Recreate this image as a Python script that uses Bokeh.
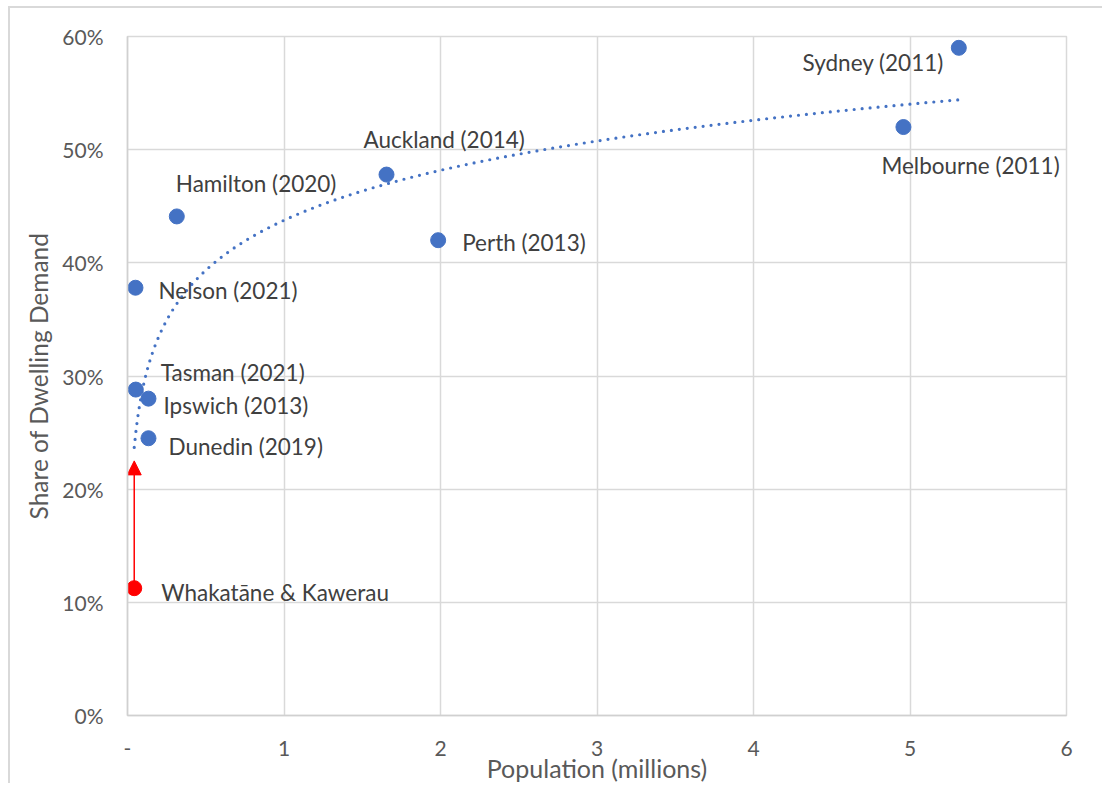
import numpy as np
from bokeh.plotting import figure
from bokeh.models import (ColumnDataSource, FixedTicker, NumeralTickFormatter, Arrow,
                          NormalHead, LabelSet, Range1d)
from bokeh.core.properties import value
from bokeh.embed import file_html
from bokeh.resources import INLINE

# City observations: population (millions) vs share of dwelling demand
cities = ["Sydney (2011)", "Melbourne (2011)", "Auckland (2014)", "Perth (2013)",
          "Hamilton (2020)", "Nelson (2021)", "Tasman (2021)", "Ipswich (2013)",
          "Dunedin (2019)"]
population = [5.312, 4.958, 1.655, 1.985, 0.315, 0.051, 0.053, 0.134, 0.134]
share = [0.590, 0.520, 0.478, 0.420, 0.441, 0.378, 0.288, 0.280, 0.245]

# Highlighted district and where it would sit on the curve
hl_name = "Whakatāne & Kawerau"
hl_population = 0.043
hl_share = 0.1125
hl_target = 0.225

x_ticks = [0, 1, 2, 3, 4, 5, 6]
y_ticks = [0.0, 0.1, 0.2, 0.3, 0.4, 0.5, 0.6]

# Label placement (pixel offsets from each point: right, up)
label_offsets = {
    "Sydney (2011)": (-15, -15, "right"),
    "Melbourne (2011)": (-22, -38, "left"),
    "Auckland (2014)": (-23, 35, "left"),
    "Perth (2013)": (24, -2, "left"),
    "Hamilton (2020)": (-1, 33, "left"),
    "Nelson (2021)": (23, -3, "left"),
    "Tasman (2021)": (25, 17, "left"),
    "Ipswich (2013)": (15, -7, "left"),
    "Dunedin (2019)": (20, -8, "left"),
    hl_name: (27, -4, "left"),
}

FONT = "Lato"
BLUE = "#4472C4"

# Canvas sits inside an 8px/6px page offset with a 2px chart-area border
p = figure(width=1094, height=777, x_range=Range1d(0, 6), y_range=Range1d(0, 0.6),
           output_backend="svg", toolbar_location=None,
           min_border_left=117, min_border_right=38, min_border_top=28, min_border_bottom=68)
p.margin = (6, 0, 0, 8)
p.styles = {"border-left": "2px solid #d9d9d9", "border-top": "2px solid #d9d9d9"}
p.background_fill_color = "white"
p.border_fill_color = "white"
p.outline_line_color = "#d9d9d9"
p.outline_line_width = 1.5

for g in (p.xgrid, p.ygrid):
    g.grid_line_color = "#d9d9d9"
    g.grid_line_width = 1.5

p.xaxis.ticker = FixedTicker(ticks=x_ticks)
p.xaxis.major_label_overrides = {0: "-"}
p.yaxis.ticker = FixedTicker(ticks=y_ticks)
p.yaxis.formatter = NumeralTickFormatter(format="0%")
p.xgrid.ticker = FixedTicker(ticks=x_ticks)
p.ygrid.ticker = FixedTicker(ticks=y_ticks)

for ax in (p.xaxis, p.yaxis):
    ax.axis_line_color = "#d0d0d0"
    ax.axis_line_width = 1.5
    ax.major_tick_line_color = None
    ax.minor_tick_line_color = None
    ax.major_label_text_font = FONT
    ax.major_label_text_font_size = "21px"
    ax.major_label_text_color = "#595959"
    ax.axis_label_text_font = FONT
    ax.axis_label_text_color = "#595959"
    ax.axis_label_text_font_style = "normal"

p.xaxis.axis_label = "Population (millions)"
p.yaxis.axis_label = "Share of Dwelling Demand"
p.xaxis.axis_label_text_font_size = "25px"
p.yaxis.axis_label_text_font_size = "24.5px"
p.xaxis.major_label_standoff = 19
p.xaxis.axis_label_standoff = -6
p.yaxis.major_label_standoff = 18
p.yaxis.axis_label_standoff = 6

# Logarithmic trend fitted through every observation
all_x = np.array(population + [hl_population])
all_y = np.array(share + [hl_share])
b, a = np.polyfit(np.log(all_x), all_y, 1)
tx = np.linspace(all_x.min(), all_x.max(), 400)
p.line(tx, a + b * np.log(tx), line_color=BLUE, line_width=3.2, line_dash="0 8",
       line_cap="round")

# Arrow from the highlighted district up towards the curve
arrow = Arrow(end=NormalHead(size=14, fill_color="red", line_color="red", line_width=1),
              x_start=hl_population, y_start=hl_share, x_end=hl_population, y_end=hl_target,
              line_color="red", line_width=1.5, level="underlay")
p.add_layout(arrow)

src = ColumnDataSource(dict(x=population, y=share, name=cities))
p.scatter("x", "y", source=src, size=15, fill_color=BLUE, line_color=BLUE)
p.scatter([hl_population], [hl_share], size=15, fill_color="#FF0000", line_color="#FF0000")

names = cities + [hl_name]
xs = population + [hl_population]
ys = share + [hl_share]
for align in ("left", "right"):
    sel = [i for i, n in enumerate(names) if label_offsets[n][2] == align]
    lsrc = ColumnDataSource(dict(
        x=[xs[i] for i in sel], y=[ys[i] for i in sel], text=[names[i] for i in sel],
        dx=[label_offsets[names[i]][0] for i in sel],
        dy=[label_offsets[names[i]][1] for i in sel]))
    p.add_layout(LabelSet(x="x", y="y", text="text", x_offset="dx", y_offset="dy",
                          source=lsrc, text_font=value(FONT), text_font_size=value("22.5px"),
                          text_color="#404040", text_align=align, text_baseline="middle"))

open("out.html", "w").write(file_html(p, INLINE))
